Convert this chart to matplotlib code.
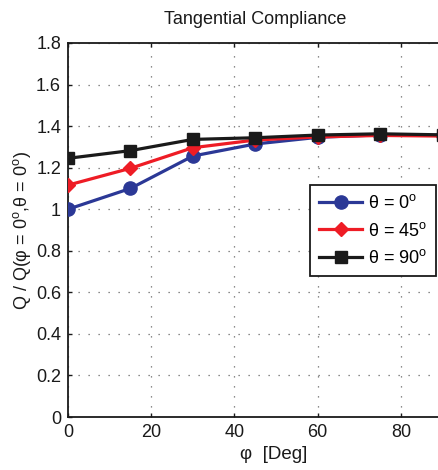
import matplotlib
matplotlib.use("Agg")
import matplotlib.pyplot as plt

plt.rcParams['font.family'] = ['Liberation Sans', 'DejaVu Sans']
plt.rcParams['mathtext.fontset'] = 'custom'
plt.rcParams['mathtext.rm'] = 'Liberation Sans'
plt.rcParams['mathtext.it'] = 'Liberation Sans:italic'

# Incidence angle phi (degrees)
phi = [0, 15, 30, 45, 60, 75, 90]

# Normalised tangential compliance for three theta values
q_theta0 = [1.00, 1.10, 1.256, 1.314, 1.346, 1.358, 1.355]
q_theta45 = [1.116, 1.197, 1.296, 1.333, 1.348, 1.355, 1.352]
q_theta90 = [1.245, 1.282, 1.336, 1.344, 1.357, 1.363, 1.358]

x_ticks = [0, 20, 40, 60, 80]
y_ticks = [0, 0.2, 0.4, 0.6, 0.8, 1, 1.2, 1.4, 1.6, 1.8]
y_tick_labels = ['0', '0.2', '0.4', '0.6', '0.8', '1', '1.2', '1.4', '1.6', '1.8']

fig = plt.figure(figsize=(4.39, 4.70), dpi=100)
ax = fig.add_axes([68 / 439, 53 / 470, 374.6 / 439, 374 / 470])

ax.plot(phi, q_theta0, color='#2b3896', lw=2.3, marker='o', ms=9.5,
        label=r'θ = 0$^{\mathrm{o}}$', zorder=3)
ax.plot(phi, q_theta45, color='#ee1c25', lw=2.3, marker='D', ms=7.5,
        label=r'θ = 45$^{\mathrm{o}}$', zorder=4)
ax.plot(phi, q_theta90, color='#1a1a1a', lw=2.3, marker='s', ms=8.5,
        label=r'θ = 90$^{\mathrm{o}}$', zorder=5)

ax.set_xlim(0, 90)
ax.set_ylim(0, 1.8)
ax.set_xticks(x_ticks)
ax.set_yticks(y_ticks)
ax.set_yticklabels(y_tick_labels)
ax.tick_params(direction='in', length=3, width=1.0, labelsize=13, colors='#1a1a1a',
               pad=5, top=True, right=True)
ax.grid(True, linestyle=(0, (1, 7)), color='#666666', linewidth=0.9)
for s in ax.spines.values():
    s.set_linewidth(1.3)
    s.set_color('#1a1a1a')

ax.set_title('Tangential Compliance', fontsize=13, color='#1a1a1a', pad=14)
ax.set_xlabel('φ  [Deg]', fontsize=13.5, color='#1a1a1a')
ax.xaxis.set_label_coords(0.55, -0.078)
ax.set_ylabel(r'Q / Q(φ = 0$^{\mathrm{o}}$,θ = 0$^{\mathrm{o}}$)', fontsize=13,
              color='#1a1a1a', labelpad=2)

leg = ax.legend(loc='upper right', bbox_to_anchor=(0.982, 0.620), borderaxespad=0,
                fontsize=13, handlelength=2.4, fancybox=False, framealpha=1,
                edgecolor='#1a1a1a', labelspacing=0.52, borderpad=0.5,
                handletextpad=0.3)
leg.get_frame().set_linewidth(1.3)

fig.savefig('out.png', dpi=100)
